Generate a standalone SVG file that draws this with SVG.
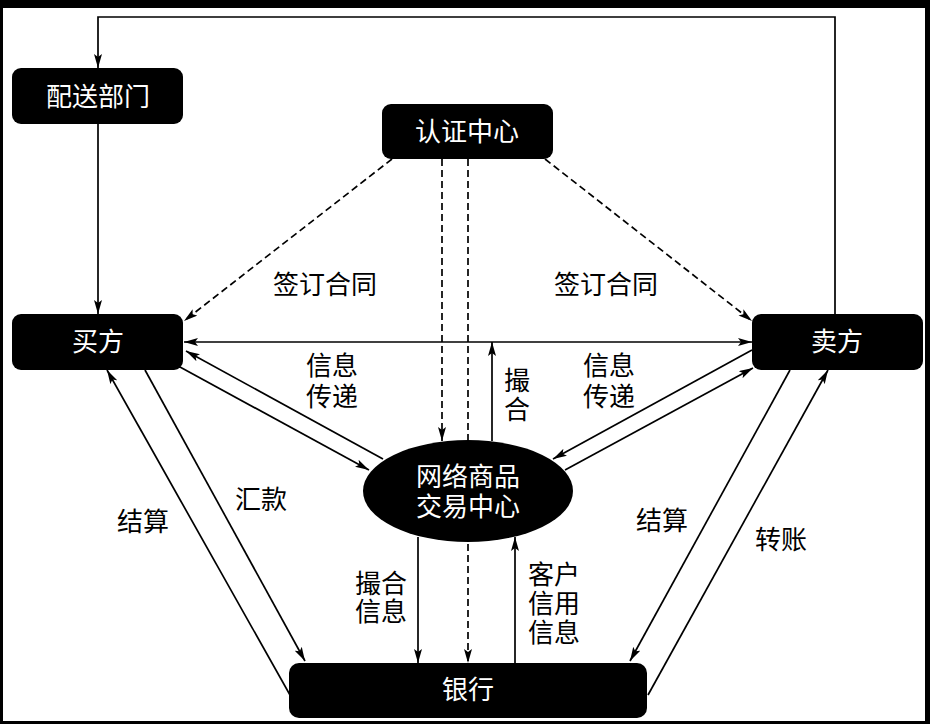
<svg xmlns="http://www.w3.org/2000/svg" width="930" height="724" viewBox="0 0 930 724">
<defs>
<marker id="arr" viewBox="0 0 14 8" refX="14" refY="4" markerWidth="14" markerHeight="8" markerUnits="userSpaceOnUse" orient="auto-start-reverse">
<path d="M0,0 L14,4 L0,8 L3,4 z" fill="#000"/>
</marker>
<style>
.ln{stroke:#000;stroke-width:1.7;fill:none}
.ds{stroke:#000;stroke-width:1.7;fill:none;stroke-dasharray:7 4}
.box{fill:#000}
.wt{fill:#fff;font-family:"Liberation Serif","Noto Sans CJK SC",serif;font-size:26px;text-anchor:middle;dominant-baseline:central}
.bt{fill:#000;font-family:"Liberation Serif","Noto Sans CJK SC",serif;font-size:26px;text-anchor:middle;dominant-baseline:central}
</style>
</defs>
<rect x="0" y="0" width="930" height="724" fill="#000"/>
<rect x="3" y="8" width="922" height="713" fill="#fff"/>

<g id="connectors">
<polyline class="ln" points="835,314 835,17 98,17 98,68" marker-end="url(#arr)"/>
<line class="ln" x1="98" y1="124" x2="98" y2="314" marker-end="url(#arr)"/>
<line class="ds" x1="392" y1="159" x2="184" y2="321" marker-end="url(#arr)"/>
<line class="ds" x1="545" y1="159" x2="752" y2="321" marker-end="url(#arr)"/>
<line class="ds" x1="442" y1="159" x2="442" y2="441" marker-end="url(#arr)"/>
<line class="ds" x1="468" y1="159" x2="468" y2="663" marker-end="url(#arr)"/>
<line class="ln" x1="184" y1="342" x2="752" y2="342" marker-start="url(#arr)" marker-end="url(#arr)"/>
<line class="ln" x1="492" y1="441" x2="492" y2="342" marker-end="url(#arr)"/>
<line class="ln" x1="383" y1="459" x2="186" y2="351" marker-end="url(#arr)"/>
<line class="ln" x1="180" y1="367" x2="369" y2="470" marker-end="url(#arr)"/>
<line class="ln" x1="565" y1="470" x2="753" y2="368" marker-end="url(#arr)"/>
<line class="ln" x1="752" y1="350" x2="553" y2="459" marker-end="url(#arr)"/>
<line class="ln" x1="290" y1="695" x2="107" y2="370" marker-end="url(#arr)"/>
<line class="ln" x1="145" y1="370" x2="305" y2="661" marker-end="url(#arr)"/>
<line class="ln" x1="790" y1="370" x2="630" y2="661" marker-end="url(#arr)"/>
<line class="ln" x1="648" y1="695" x2="828" y2="370" marker-end="url(#arr)"/>
<line class="ln" x1="418" y1="537" x2="418" y2="663" marker-end="url(#arr)"/>
<line class="ln" x1="515" y1="663" x2="515" y2="537" marker-end="url(#arr)"/>
</g>

<g id="node-peisong">
<rect class="box" x="12" y="68" width="171" height="56" rx="9"/>
<text class="wt" x="98" y="97">配送部门</text>
</g>
<g id="node-renzheng">
<rect class="box" x="382" y="104" width="171" height="55" rx="9"/>
<text class="wt" x="467" y="132">认证中心</text>
</g>
<g id="node-maifang">
<rect class="box" x="12" y="314" width="171" height="56" rx="9"/>
<text class="wt" x="98" y="342">买方</text>
</g>
<g id="node-maifang2">
<rect class="box" x="752" y="314" width="171" height="56" rx="9"/>
<text class="wt" x="837" y="342">卖方</text>
</g>
<g id="node-center">
<ellipse class="box" cx="468" cy="491" rx="105" ry="51"/>
<text class="wt" x="468" y="477">网络商品</text>
<text class="wt" x="468" y="507">交易中心</text>
</g>
<g id="node-bank">
<rect class="box" x="289" y="663" width="358" height="55" rx="10"/>
<text class="wt" x="468" y="690">银行</text>
</g>

<g id="labels">
<text class="bt" x="325" y="285">签订合同</text>
<text class="bt" x="606" y="285">签订合同</text>
<text class="bt" x="332" y="366">信息</text>
<text class="bt" x="332" y="397">传递</text>
<text class="bt" x="609" y="366">信息</text>
<text class="bt" x="609" y="397">传递</text>
<text class="bt" x="517" y="381">撮</text>
<text class="bt" x="517" y="410">合</text>
<text class="bt" x="261" y="500">汇款</text>
<text class="bt" x="143" y="522">结算</text>
<text class="bt" x="662" y="521">结算</text>
<text class="bt" x="781" y="540">转账</text>
<text class="bt" x="381" y="584">撮合</text>
<text class="bt" x="381" y="612">信息</text>
<text class="bt" x="554" y="575">客户</text>
<text class="bt" x="554" y="604">信用</text>
<text class="bt" x="554" y="633">信息</text>
</g>
</svg>
